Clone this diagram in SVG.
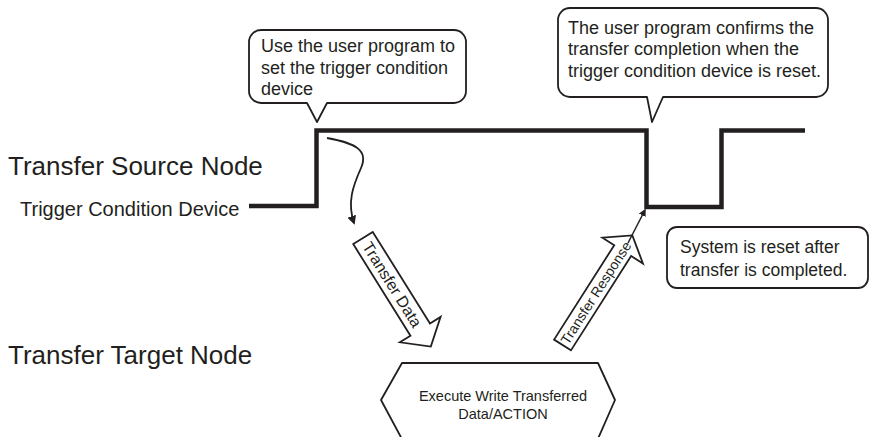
<svg xmlns="http://www.w3.org/2000/svg" width="880" height="437" viewBox="0 0 880 437">
<defs>
<style>
text{font-family:"Liberation Sans",Arial,sans-serif;fill:#231f20}
.lbl{font-size:26px}
.dev{font-size:20px}
.bub{font-size:18px}
.note{font-size:17.5px}
.hex{font-size:14.5px}
.box{fill:#fff;stroke:#231f20;stroke-width:1.8;stroke-linejoin:round}
.blk{fill:#fff;stroke:#231f20;stroke-width:1.8;stroke-linejoin:miter}
.wave{fill:none;stroke:#231f20;stroke-width:4.5;stroke-linejoin:miter}
</style>
<marker id="ah" viewBox="0 0 10 10" refX="8" refY="5" markerWidth="5" markerHeight="5" orient="auto" markerUnits="strokeWidth">
<path d="M0,0 L10,5 L0,10 Z" fill="#231f20"/>
</marker>
</defs>
<rect width="880" height="437" fill="#fff"/>

<g id="labels">
<text class="lbl" x="8" y="175">Transfer Source Node</text>
<text class="lbl" x="8" y="364">Transfer Target Node</text>
</g>

<g id="trigger-signal">
<text class="dev" x="20" y="216">Trigger Condition Device</text>
<polyline class="wave" points="249,206 316.5,206 316.5,130.5 646.5,130.5 646.5,207 721.5,207 721.5,130.5 805,130.5"/>
</g>

<g id="bubble-set">
<path class="box" d="M261,30 H454 A12,12 0 0 1 466,42 V91 A12,12 0 0 1 454,103 H327 L317,122 L307,103 H261 A12,12 0 0 1 249,91 V42 A12,12 0 0 1 261,30 Z"/>
<text class="bub" x="261" y="52">Use the user program to</text>
<text class="bub" x="261" y="73.5">set the trigger condition</text>
<text class="bub" x="261" y="95">device</text>
</g>

<g id="bubble-confirm">
<path class="box" d="M570,8 H816 A12,12 0 0 1 828,20 V85 A12,12 0 0 1 816,97 H663 L652,122 L647,97 H570 A12,12 0 0 1 558,85 V20 A12,12 0 0 1 570,8 Z"/>
<text class="bub" x="568" y="33.5">The user program confirms the</text>
<text class="bub" x="568" y="55">transfer completion when the</text>
<text class="bub" x="568" y="76.5">trigger condition device is reset.</text>
</g>

<g id="note-reset">
<rect class="box" x="667" y="227" width="201" height="61" rx="10"/>
<text class="note" x="680" y="253">System is reset after</text>
<text class="note" x="680" y="276">transfer is completed.</text>
</g>

<g id="target-action">
<polygon class="box" points="402,363 598,363 615,400 597,441 403,441 381,400"/>
<text class="hex" x="503" y="401" text-anchor="middle">Execute Write Transferred</text>
<text class="hex" x="503" y="419" text-anchor="middle">Data/ACTION</text>
</g>

<g id="connectors">
<path d="M327,138 C355,143 369,150 361,168 C353,186 347,202 354,223" fill="none" stroke="#231f20" stroke-width="1.8" marker-end="url(#ah)"/>
<g id="transfer-data" transform="translate(363,238) rotate(58)">
<path class="blk" d="M0,-11.5 L108,-11.5 L108,-24 L128,0 L108,24 L108,11.5 L0,11.5 Z"/>
<text x="55" y="5.5" text-anchor="middle" style="font-size:16px">Transfer Data</text>
</g>
<g id="transfer-response" transform="translate(562.5,345) rotate(-57.5)">
<path class="blk" d="M0,-10 L112,-10 L112,-24 L130,0 L112,24 L112,10 L0,10 Z"/>
<text x="62" y="5" text-anchor="middle" style="font-size:14px">Transfer Response</text>
</g>
<path d="M628,243 L645,210" fill="none" stroke="#231f20" stroke-width="1.5" marker-end="url(#ah)"/>
</g>
</svg>
